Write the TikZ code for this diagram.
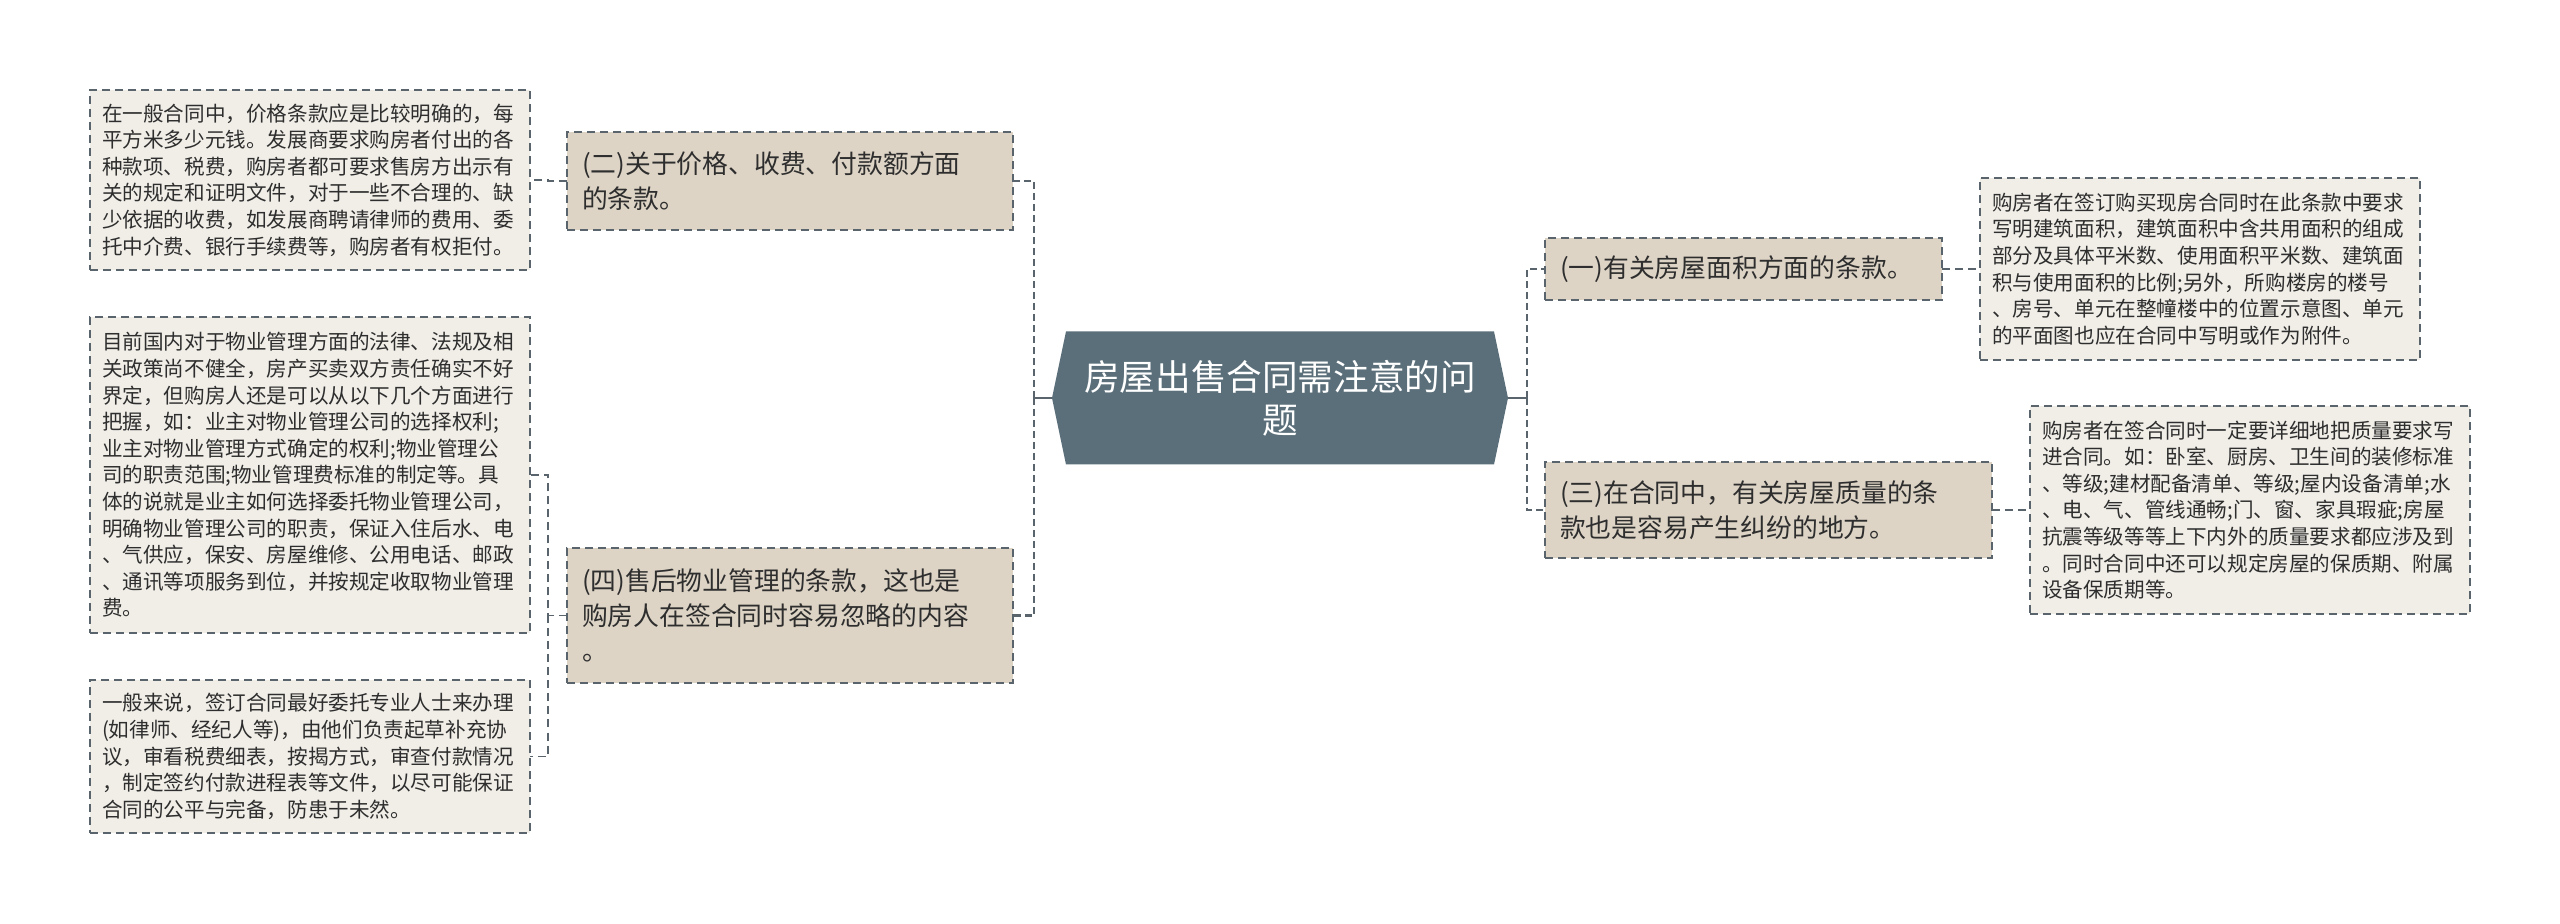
\documentclass[tikz,border=0pt]{standalone}
\usepackage{fontspec}
\usepackage{tikz}
\usepackage{color}
\setmainfont{Noto Sans CJK SC}
\usetikzlibrary{calc,backgrounds}
\definecolor{rootfill}{HTML}{5B6F7A}
\definecolor{topicfill}{HTML}{DDD4C6}
\definecolor{leaffill}{HTML}{F1EEE8}
\definecolor{edgecol}{HTML}{5A646C}
\definecolor{inkcol}{HTML}{2E2E2E}

\begin{document}
\begin{tikzpicture}[x=0.5pt,y=-0.5pt,
  rootbox/.style={inner sep=0pt,outer sep=0pt,minimum width=228pt,minimum height=66.5pt,
    align=center,text=white,font=\fontsize{17.8}{21.5}\selectfont},
  topicbox/.style={draw=edgecol,line width=0.9pt,dash pattern=on 4pt off 2.5pt,fill=topicfill,
    inner xsep=7.5pt,inner ysep=0pt,outer sep=0pt,align=left,text=inkcol,
    font=\fontsize{12.9}{17.5}\selectfont},
  leafbox/.style={draw=edgecol,line width=0.9pt,dash pattern=on 4pt off 2.5pt,fill=leaffill,
    text width=208pt,inner xsep=6pt,inner ysep=0pt,outer sep=0pt,align=left,text=inkcol,
    font=\fontsize{10.3}{13.3}\selectfont},
  stub/.style={draw=edgecol,line width=1.25pt},
  link/.style={draw=edgecol,line width=1.25pt,dash pattern=on 3.5pt off 2pt},
  leaflink/.style={draw=edgecol,line width=0.75pt,dash pattern=on 4pt off 2.5pt}]
\useasboundingbox (0,0) rectangle (2560,924);

\node[rootbox] (root) at (1280,398) {房屋出售合同需注意的问\\题};

\node[topicbox,text width=208pt,minimum height=49pt] (price) at (790,181) {(二)关于价格、收费、付款额方面\\的条款。};
\node[topicbox,text width=208pt,minimum height=67.5pt] (mgmt) at (790,615.5) {(四)售后物业管理的条款，这也是\\购房人在签合同时容易忽略的内容\\。};
\node[topicbox,text width=183.5pt,minimum height=31pt] (area) at (1743.5,269) {(一)有关房屋面积方面的条款。};
\node[topicbox,text width=208.5pt,minimum height=48pt] (quality) at (1768.5,510) {(三)在合同中，有关房屋质量的条\\款也是容易产生纠纷的地方。};

\node[leafbox,minimum height=90pt] (pricetext) at (310,180) {在一般合同中，价格条款应是比较明确的，每\\平方米多少元钱。发展商要求购房者付出的各\\种款项、税费，购房者都可要求售房方出示有\\关的规定和证明文件，对于一些不合理的、缺\\少依据的收费，如发展商聘请律师的费用、委\\托中介费、银行手续费等，购房者有权拒付。};
\node[leafbox,minimum height=158pt] (mgmttext) at (310,475) {目前国内对于物业管理方面的法律、法规及相\\关政策尚不健全，房产买卖双方责任确实不好\\界定，但购房人还是可以从以下几个方面进行\\把握，如：业主对物业管理公司的选择权利;\\业主对物业管理方式确定的权利;物业管理公\\司的职责范围;物业管理费标准的制定等。具\\体的说就是业主如何选择委托物业管理公司，\\明确物业管理公司的职责，保证入住后水、电\\、气供应，保安、房屋维修、公用电话、邮政\\、通讯等项服务到位，并按规定收取物业管理\\费。};
\node[leafbox,minimum height=76.5pt] (agenttext) at (310,756.5) {一般来说，签订合同最好委托专业人士来办理\\(如律师、经纪人等)，由他们负责起草补充协\\议，审看税费细表，按揭方式，审查付款情况\\，制定签约付款进程表等文件，以尽可能保证\\合同的公平与完备，防患于未然。};
\node[leafbox,minimum height=91pt] (areatext) at (2200,269) {购房者在签订购买现房合同时在此条款中要求\\写明建筑面积，建筑面积中含共用面积的组成\\部分及具体平米数、使用面积平米数、建筑面\\积与使用面积的比例;另外，所购楼房的楼号\\、房号、单元在整幢楼中的位置示意图、单元\\的平面图也应在合同中写明或作为附件。};
\node[leafbox,minimum height=104pt] (qualitytext) at (2250,510) {购房者在签合同时一定要详细地把质量要求写\\进合同。如：卧室、厨房、卫生间的装修标准\\、等级;建材配备清单、等级;屋内设备清单;水\\、电、气、管线通畅;门、窗、家具瑕疵;房屋\\抗震等级等等上下内外的质量要求都应涉及到\\。同时合同中还可以规定房屋的保质期、附属\\设备保质期等。};

\begin{scope}[on background layer]
\fill[white] (0,0) rectangle (2560,924);
\fill[rootfill] (root.west) -- ($(root.north west)+(14,0)$) -- ($(root.north east)+(-14,0)$)
  -- (root.east) -- ($(root.south east)+(-14,0)$) -- ($(root.south west)+(14,0)$) -- cycle;
\end{scope}

\draw[stub] (root.west) -- ++(-18,0) coordinate (lbus);
\draw[link] (lbus) |- (price.east);
\draw[link] (lbus) |- (mgmt.east);
\draw[stub] (root.east) -- ++(19,0) coordinate (rbus);
\draw[link] (rbus) |- (area.west);
\draw[link] (rbus) |- (quality.west);
\draw[leaflink] (price.west) -- ++(-19,0) |- (pricetext.east);
\draw[leaflink] (mgmt.west) -- ++(-19,0) coordinate (mbus) |- (mgmttext.east);
\draw[leaflink] (mbus) |- (agenttext.east);
\draw[leaflink] (area.east) -- (areatext.west);
\draw[leaflink] (quality.east) -- (qualitytext.west);
\end{tikzpicture}
\end{document}
